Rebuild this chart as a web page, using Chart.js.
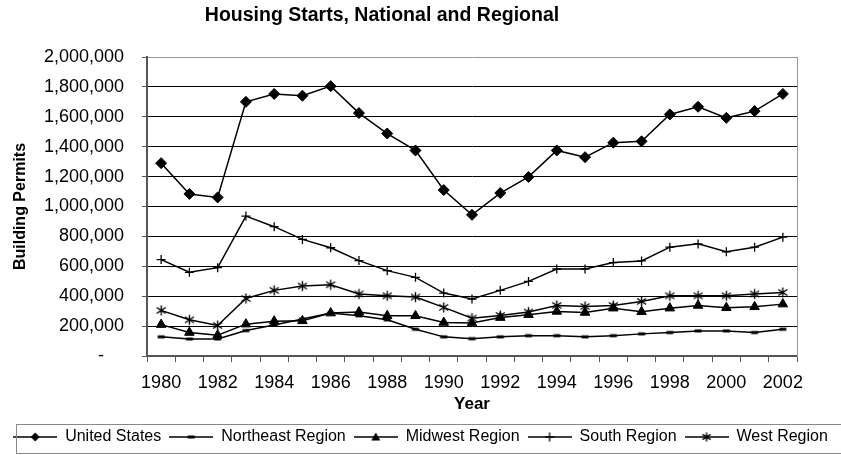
<!DOCTYPE html>
<html>
<head>
<meta charset="utf-8">
<script src="https://cdn.jsdelivr.net/npm/chart.js@4/dist/chart.umd.min.js"></script>
<style>
  body { margin: 0; background: #fff; }
  #wrap { width: 841px; height: 455px; }
</style>
</head>
<body>
<div id="wrap"><canvas id="myChart" width="841" height="455"></canvas></div>
<script>
// Datos
const years = ['1980', '1981', '1982', '1983', '1984', '1985', '1986', '1987', '1988', '1989', '1990', '1991',
               '1992', '1993', '1994', '1995', '1996', '1997', '1998', '1999', '2000', '2001', '2002'];

const unitedStates = [1290000, 1084000, 1061000, 1700000, 1753000, 1741000, 1805000, 1625000, 1488000, 1375000, 1110000, 944000,
                      1090000, 1198000, 1375000, 1330000, 1427000, 1436000, 1616000, 1667000, 1593000, 1638000, 1753000];
const northeast = [128000, 114000, 114000, 170000, 208000, 247000, 287000, 269000, 242000, 179000, 128000, 116000,
                   128000, 136000, 136000, 128000, 136000, 148000, 157000, 168000, 168000, 157000, 179000];
const midwest = [210000, 157000, 139000, 213000, 233000, 235000, 287000, 294000, 269000, 269000, 224000, 220000,
                 257000, 276000, 298000, 291000, 320000, 296000, 320000, 338000, 323000, 329000, 347000];
const south = [645000, 560000, 591000, 936000, 865000, 780000, 724000, 638000, 571000, 526000, 421000, 381000,
               439000, 499000, 582000, 582000, 625000, 636000, 728000, 750000, 697000, 728000, 795000];
const west = [305000, 242000, 204000, 385000, 439000, 468000, 477000, 415000, 403000, 394000, 325000, 253000,
              271000, 294000, 338000, 331000, 338000, 365000, 403000, 403000, 403000, 415000, 425000];

const seriesNames = ['United States', 'Northeast Region', 'Midwest Region', 'South Region', 'West Region'];
const yTicks = { min: 0, max: 2000000, step: 200000 };
const chartTitle = 'Housing Starts, National and Regional';

const FONT = "'Liberation Sans', Arial, sans-serif";
Chart.defaults.font.family = FONT;
Chart.defaults.color = '#000';

// Dibuja un marcador en un contexto 2d
function drawMarker(ctx, kind, x, y, r) {
    ctx.fillStyle = '#000';
    ctx.strokeStyle = '#000';
    ctx.beginPath();
    if (kind === 'diamond') {
        ctx.moveTo(x, y - r); ctx.lineTo(x + r, y); ctx.lineTo(x, y + r); ctx.lineTo(x - r, y);
        ctx.closePath(); ctx.fill();
    } else if (kind === 'dash') {
        ctx.fillRect(x - r, y - 1.5, 2 * r, 3);
    } else if (kind === 'triangle') {
        ctx.moveTo(x, y - r); ctx.lineTo(x + r, y + r * 0.8); ctx.lineTo(x - r, y + r * 0.8);
        ctx.closePath(); ctx.fill();
    } else if (kind === 'plus') {
        ctx.lineWidth = 1.3;
        ctx.moveTo(x - r, y); ctx.lineTo(x + r, y);
        ctx.moveTo(x, y - r); ctx.lineTo(x, y + r);
        ctx.stroke();
    } else if (kind === 'star') {
        ctx.lineWidth = 1.4;
        ctx.moveTo(x, y - r); ctx.lineTo(x, y + r);
        ctx.moveTo(x - r * 0.9, y - r * 0.6); ctx.lineTo(x + r * 0.9, y + r * 0.6);
        ctx.moveTo(x - r * 0.9, y + r * 0.6); ctx.lineTo(x + r * 0.9, y - r * 0.6);
        ctx.stroke();
    }
}

function markerCanvas(kind, size, r) {
    const c = document.createElement('canvas');
    c.width = size; c.height = size;
    drawMarker(c.getContext('2d'), kind, size / 2, size / 2, r);
    return c;
}

// Icono de leyenda: linea con marcador en el medio
function legendIcon(kind, r) {
    const c = document.createElement('canvas');
    c.width = 44; c.height = 14;
    const ctx = c.getContext('2d');
    ctx.strokeStyle = '#000';
    ctx.lineWidth = 1.5;
    ctx.beginPath(); ctx.moveTo(0, 7); ctx.lineTo(44, 7); ctx.stroke();
    drawMarker(ctx, kind, 22, 7, r);
    return c;
}

const legendIcons = [legendIcon('diamond', 4.5), legendIcon('dash', 3.5), legendIcon('triangle', 4.5),
                     legendIcon('plus', 4.5), legendIcon('star', 4.5)];

const pointStyles = ['rectRot', markerCanvas('dash', 10, 3.5), 'triangle', 'cross', markerCanvas('star', 13, 5)];
const pointRadii = [5.5, 4, 5.5, 4.5, 5];
const seriesData = [unitedStates, northeast, midwest, south, west];

const datasets = seriesNames.map((name, i) => ({
    label: name,
    data: seriesData[i],
    borderColor: '#000',
    backgroundColor: '#000',
    borderWidth: 1.5,
    tension: 0,
    fill: false,
    pointStyle: pointStyles[i],
    pointRadius: pointRadii[i],
    pointHoverRadius: pointRadii[i],
    pointBackgroundColor: '#000',
    pointBorderColor: '#000',
    pointBorderWidth: i === 3 ? 1.3 : 1
}));

// Titulo centrado como en el original
const titlePlugin = {
    id: 'tituloFijo',
    afterDraw(chart) {
        const ctx = chart.ctx;
        ctx.save();
        ctx.font = 'bold 19.5px ' + FONT;
        ctx.fillStyle = '#000';
        ctx.textAlign = 'center';
        ctx.textBaseline = 'middle';
        ctx.fillText(chartTitle, 382, 16);
        ctx.restore();
    }
};

// Marco de la leyenda
const legendBoxPlugin = {
    id: 'marcoLeyenda',
    afterDraw(chart) {
        const lg = chart.legend;
        const ctx = chart.ctx;
        ctx.save();
        ctx.strokeStyle = '#888';
        ctx.lineWidth = 1;
        ctx.strokeRect(16.5, Math.round(lg.top) + 3.5, 900, 29);
        ctx.restore();
    }
};

const ctx = document.getElementById('myChart').getContext('2d');
const myChart = new Chart(ctx, {
    type: 'line',
    data: { labels: years, datasets: datasets },
    plugins: [titlePlugin, legendBoxPlugin],
    options: {
        responsive: false,
        animation: false,
        devicePixelRatio: 1,
        layout: { padding: { top: 57, left: 0, right: 0, bottom: 0 } },
        scales: {
            x: {
                type: 'category',
                offset: true,
                grid: { offset: true, drawOnChartArea: false, drawTicks: true, tickLength: 6, color: '#555' },
                border: { display: true, color: '#555', width: 2 },
                ticks: {
                    autoSkip: false,
                    maxRotation: 0,
                    padding: 10,
                    font: { size: 18 },
                    callback: function (value, index) {
                        return index % 2 === 0 ? this.getLabelForValue(value) : '';
                    }
                },
                title: { display: true, text: 'Year', font: { size: 17, weight: 'bold' }, padding: { top: -9, bottom: 6 } }
            },
            y: {
                min: yTicks.min,
                max: yTicks.max,
                afterFit: s => { s.width = 147; },
                grid: {
                    color: c => (c.tick && c.tick.value === yTicks.max ? '#999' : '#000'),
                    tickColor: '#555',
                    tickLength: 5,
                    lineWidth: 1
                },
                border: { display: true, color: '#555', width: 2 },
                ticks: {
                    stepSize: yTicks.step,
                    padding: 18,
                    font: { size: 18 },
                    callback: v => (v === 0 ? '-    ' : v.toLocaleString('en-US'))
                },
                title: { display: true, text: 'Building Permits', font: { size: 16, weight: 'bold' }, padding: { top: 11, bottom: 0 } }
            },
            y2: {
                position: 'right',
                min: yTicks.min,
                max: yTicks.max,
                afterFit: s => { s.width = 44; },
                grid: { drawOnChartArea: false, drawTicks: false },
                border: { display: true, color: '#999', width: 1 },
                ticks: { display: false }
            }
        },
        plugins: {
            title: { display: false },
            tooltip: { enabled: false },
            legend: {
                position: 'bottom',
                onClick: null,
                labels: {
                    usePointStyle: true,
                    pointStyleWidth: 44,
                    padding: 8,
                    color: '#000',
                    font: { size: 16 },
                    generateLabels: chart => {
                        const items = Chart.defaults.plugins.legend.labels.generateLabels(chart);
                        items.forEach((it, i) => { it.pointStyle = legendIcons[i]; });
                        return items;
                    }
                }
            }
        }
    }
});
</script>
</body>
</html>
